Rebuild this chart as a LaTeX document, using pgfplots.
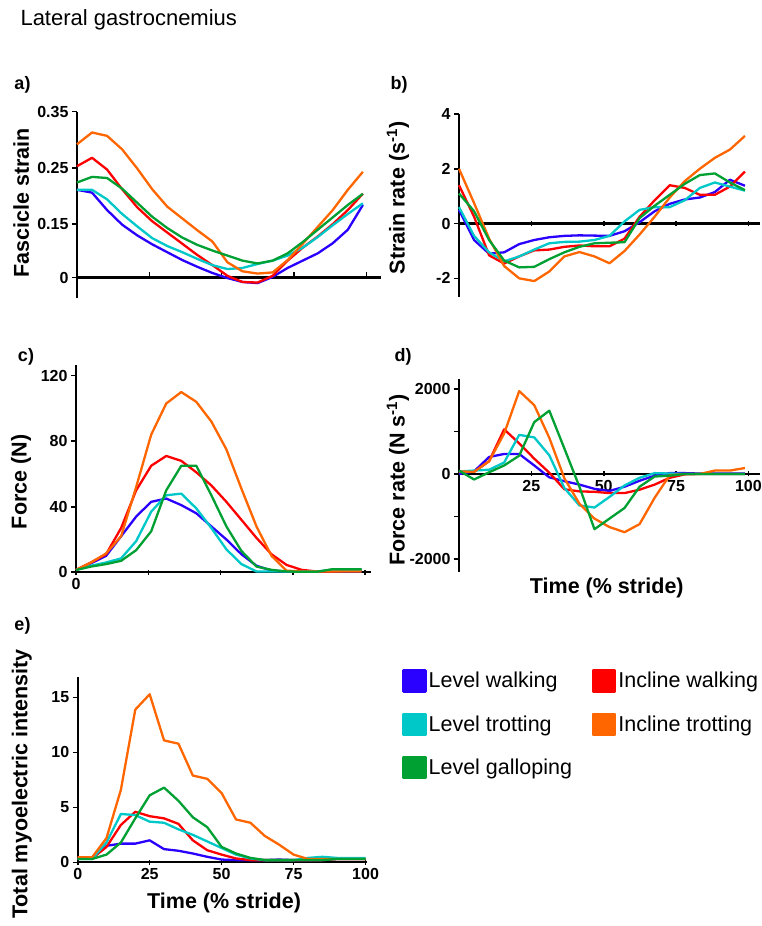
\documentclass[border=0pt]{standalone}
\usepackage{fontspec}
\setmainfont{Liberation Sans}
\usepackage{pgfplots}
\usepackage{pgfplotstable}
\pgfplotsset{compat=1.18}

\definecolor{lwalk}{HTML}{2A00FF}
\definecolor{iwalk}{HTML}{FF0000}
\definecolor{ltrot}{HTML}{00C8C8}
\definecolor{itrot}{HTML}{FF6600}
\definecolor{lgall}{HTML}{00A032}

\newcommand\tickfont{\fontsize{16}{16}\selectfont\bfseries}
\newcommand\labfont{\fontsize{21.5}{22}\selectfont\bfseries}
\newcommand\legfont{\fontsize{21.5}{22}\selectfont}
\newcommand\panfont{\fontsize{18}{18}\selectfont\bfseries}

% columns: lw = level walking, iw = incline walking, lt = level trotting,
% it = incline trotting, lg = level galloping
\pgfplotstableread{
x    lw    iw    lt    it    lg
0    0.211 0.253 0.211 0.292 0.224
5.2  0.206 0.268 0.211 0.313 0.234
10.4 0.175 0.247 0.194 0.307 0.232
15.6 0.149 0.212 0.168 0.283 0.213
20.8 0.130 0.180 0.146 0.249 0.188
26   0.114 0.155 0.125 0.212 0.163
31.2 0.100 0.135 0.111 0.181 0.143
36.4 0.086 0.115 0.100 0.160 0.126
41.6 0.074 0.095 0.088 0.139 0.113
46.8 0.063 0.077 0.077 0.119 0.103
52   0.054 0.058 0.070 0.082 0.094
57.2 0.047 0.047 0.072 0.066 0.085
62.4 0.045 0.046 0.079 0.062 0.080
67.6 0.056 0.058 0.085 0.064 0.085
72.8 0.072 0.085 0.094 0.086 0.098
78   0.085 0.108 0.108 0.115 0.118
83.2 0.098 0.128 0.127 0.145 0.140
88.4 0.116 0.150 0.148 0.175 0.162
93.6 0.140 0.175 0.168 0.211 0.184
98.8 0.184 0.204 0.187 0.243 0.204
}\strain

\pgfplotstableread{
x    lw    iw    lt    it    lg
0    0.5   1.4   0.6   2.0   1.1
5.2  -0.6  0.25  -0.45 0.75  0.45
10.4 -1.1  -1.16 -1.05 -0.55 -0.6
15.6 -1.05 -1.46 -1.38 -1.55 -1.35
20.8 -0.75 -1.2  -1.2  -2.0  -1.6
26   -0.6  -0.98 -0.95 -2.1  -1.58
31.2 -0.5  -0.95 -0.72 -1.75 -1.3
36.4 -0.45 -0.85 -0.67 -1.2  -1.05
41.6 -0.43 -0.8  -0.66 -1.04 -0.85
46.8 -0.44 -0.83 -0.6  -1.2  -0.72
52   -0.45 -0.83 -0.45 -1.45 -0.7
57.2 -0.28 -0.55 0.08  -1.0  -0.68
62.4 0.05  0.25  0.5   -0.4  0.2
67.6 0.45  0.85  0.6   0.25  0.65
72.8 0.72  1.4   0.6   0.95  1.05
78   0.88  1.3   0.85  1.55  1.45
83.2 0.95  1.05  1.3   2.0   1.77
88.4 1.15  1.05  1.5   2.4   1.83
93.6 1.6   1.35  1.35  2.7   1.5
98.8 1.38  1.9   1.2   3.2   1.22
}\srate

\pgfplotstableread{
x    lw   iw   lt   it   lg
0    1.4  1.4  1.4  1.4  1.4
5.2  5.5  6    4    6    3.5
10.4 10   11   6    11.5 5
15.6 22   27   8.5  22   7
20.8 34   50   19   52   13.5
26   43   65   37   84   25
31.2 45   71   47   103  50
36.4 41   68   48   110  65
41.6 36   61   39   104  65
46.8 28   53   27   92   47
52   20   43   14   75   28
57.2 11   32   5    51   13
62.4 4    21   0.5  28   3.5
67.6 1    11   0.5  10   1.5
72.8 0.5  4.5  0.5  1    0.5
78   0.5  1.5  0.5  0.5  0.3
83.2 0.5  0.5  0.5  0.5  0.3
88.4 0.5  0.5  1.5  0.5  1.8
93.6 0.5  1    1.5  0.5  1.8
98.8 0.5  1.5  1.5  0.5  1.8
}\force

\pgfplotstableread{
x    lw    iw    lt    it    lg
0    0     60    60    60    80
5.2  60    50    80    50    -130
10.4 400   300   100   300   40
15.6 470   1050  270   950   200
20.8 470   720   920   1950  430
26   200   360   860   1620  1220
31.2 -80   30    440   850   1490
36.4 -170  -360  -330  -100  600
41.6 -250  -410  -740  -700  -300
46.8 -350  -420  -790  -1050 -1300
52   -400  -450  -540  -1250 -1050
57.2 -300  -450  -270  -1370 -800
62.4 -160  -370  -90   -1180 -300
67.6 -40   -250  20    -560  -60
72.8 20    -90   10    -30   -40
78   20    -10   0     0     0
83.2 10    0     0     0     0
88.4 10    0     0     80    0
93.6 10    0     0     80    0
98.8 10    0     0     140   0
}\frate

\pgfplotstableread{
x    lw    iw    lt    it    lg
0    0.35  0.35  0.3   0.45  0.3
5    0.35  0.35  0.3   0.45  0.3
10   1.5   1.4   1.8   2.2   0.7
15   1.7   3.4   4.4   6.6   1.8
20   1.7   4.6   4.3   13.9  4.0
25   2.0   4.2   3.7   15.3  6.1
30   1.2   4.0   3.6   11.1  6.8
35   1.05  3.5   3.0   10.8  5.6
40   0.8   2.0   2.5   7.9   4.1
45   0.5   1.1   1.9   7.6   3.2
50   0.25  0.7   1.3   6.3   1.4
55   0.2   0.35  0.7   3.9   0.8
60   0.2   0.2   0.35  3.6   0.4
65   0.2   0.2   0.2   2.4   0.2
70   0.25  0.2   0.2   1.6   0.2
75   0.2   0.2   0.2   0.7   0.2
80   0.2   0.2   0.4   0.3   0.2
85   0.2   0.2   0.5   0.3   0.2
90   0.3   0.3   0.4   0.3   0.3
95   0.3   0.3   0.4   0.3   0.3
100  0.3   0.3   0.4   0.3   0.3
}\emg

\pgfplotsset{
  panel/.style={
    scale only axis, anchor=south west, clip=false,
    axis y line=left,
    axis line style={-, line width=2.2pt, black},
    tick style={black, line width=1.6pt},
    major tick length=5pt,
    ytick align=outside, xtick align=inside,
    tick label style={font=\tickfont},
    /pgf/number format/assume math mode=true,
    label style={font=\labfont},
    every axis plot/.append style={line width=2.3pt, mark=none, line join=round},
    cycle list={{lwalk},{iwalk},{ltrot},{itrot},{lgall}},
  },
  noarrows/.style={
    every inner x axis line/.append style={-},
    every outer x axis line/.append style={-},
    every inner y axis line/.append style={-},
    every outer y axis line/.append style={-},
  },
}

\begin{document}
\begin{tikzpicture}

\node[anchor=base west, font=\fontsize{22}{22}\selectfont] at (17pt,900pt) {Lateral gastrocnemius};
\node[font=\panfont] at (22.5pt,841pt) {a)};
\node[font=\panfont] at (399pt,841pt) {b)};
\node[font=\panfont] at (26pt,569pt) {c)};
\node[font=\panfont] at (403pt,569pt) {d)};
\node[font=\panfont] at (22.5pt,300pt) {e)};

% a) fascicle strain
\begin{axis}[panel, at={(77pt,627.7pt)}, width=303.8pt, height=186.6pt,
  axis x line=none, noarrows,
  xmin=0, xmax=105, ymin=0.018, ymax=0.35,
  ytick={0.055,0.15,0.25,0.35}, yticklabels={0,0.15,0.25,0.35},
  ylabel={Fascicle strain},
  ylabel style={at={(axis description cs:-0.184,0.511)}, anchor=center}]
\draw[line width=2.2pt] (axis cs:0,0.055) -- (axis cs:105,0.055);
\pgfplotsinvokeforeach{25,50,75,100}{\draw[line width=1.6pt] (axis cs:#1,0.055) -- ++(0pt,5pt);}
\addplot table[x=x,y=lw]{\strain};
\addplot table[x=x,y=iw]{\strain};
\addplot table[x=x,y=lt]{\strain};
\addplot table[x=x,y=it]{\strain};
\addplot table[x=x,y=lg]{\strain};
\end{axis}

% b) strain rate
\begin{axis}[panel, at={(459pt,629.3pt)}, width=301pt, height=182.7pt,
  axis x line=middle, noarrows, hide obscured y ticks=false,
  xmin=0, xmax=104, ymin=-2.67, ymax=4,
  xtick={25,50,75,100}, xticklabels={},
  ytick={-2,0,2,4},
  ylabel={Strain rate (s\textsuperscript{-1})},
  ylabel style={at={(axis description cs:-0.203,0.540)}, anchor=center}]
\addplot table[x=x,y=lw]{\srate};
\addplot table[x=x,y=iw]{\srate};
\addplot table[x=x,y=lt]{\srate};
\addplot table[x=x,y=it]{\srate};
\addplot table[x=x,y=lg]{\srate};
\end{axis}

% c) force
\begin{axis}[panel, at={(76pt,353.7pt)}, width=295pt, height=207.3pt,
  axis x line=bottom, noarrows,
  xmin=0, xmax=102, ymin=0, ymax=126.5,
  xtick={0,25,50,75,100}, xticklabels={0,,,,},
  ytick={0,40,80,120},
  ylabel={Force (N)},
  ylabel style={at={(axis description cs:-0.186,0.436)}, anchor=center}]
\addplot table[x=x,y=lw]{\force};
\addplot table[x=x,y=iw]{\force};
\addplot table[x=x,y=lt]{\force};
\addplot table[x=x,y=it]{\force};
\addplot table[x=x,y=lg]{\force};
\end{axis}

% d) force rate
\begin{axis}[panel, at={(459pt,354.3pt)}, width=301pt, height=192.4pt,
  axis x line=middle, noarrows, hide obscured y ticks=false,
  xmin=0, xmax=104, ymin=-2300, ymax=2228,
  xtick={25,50,75,100},
  ytick={-2000,-1000,0,1000,2000}, yticklabels={-2000,,0,,2000},
  ylabel={Force rate (N s\textsuperscript{-1})},
  ylabel style={at={(axis description cs:-0.203,0.477)}, anchor=center},
  xlabel={Time (\% stride)},
  xlabel style={at={(axis description cs:0.491,-0.086)}, anchor=center, font=\labfont}]
\addplot table[x=x,y=lw]{\frate};
\addplot table[x=x,y=iw]{\frate};
\addplot table[x=x,y=lt]{\frate};
\addplot table[x=x,y=it]{\frate};
\addplot table[x=x,y=lg]{\frate};
\end{axis}

% e) total myoelectric intensity
\begin{axis}[panel, at={(77.7pt,63.7pt)}, width=289.3pt, height=185.6pt,
  axis x line=bottom, noarrows,
  xmin=0, xmax=100.5, ymin=0, ymax=16.9,
  xtick={0,25,50,75,100},
  ytick={0,5,10,15},
  ylabel={Total myoelectric intensity},
  ylabel style={at={(axis description cs:-0.193,0.422)}, anchor=center},
  xlabel={Time (\% stride)},
  xlabel style={at={(axis description cs:0.506,-0.219)}, anchor=center, font=\labfont},
  legend style={at={(axis description cs:1.111,1.052)}, anchor=north west,
    draw=none, fill=none, font=\legfont, legend cell align=left,
    row sep=20pt, /tikz/every even column/.append style={column sep=18pt}},
  legend columns=2,
  legend image code/.code={\fill[#1] (0pt,-10.5pt) rectangle (22pt,10.5pt);}]
\addplot table[x=x,y=lw]{\emg}; \addlegendentry{Level walking}
\addplot table[x=x,y=iw]{\emg}; \addlegendentry{Incline walking}
\addplot table[x=x,y=lt]{\emg}; \addlegendentry{Level trotting}
\addplot table[x=x,y=it]{\emg}; \addlegendentry{Incline trotting}
\addplot table[x=x,y=lg]{\emg}; \addlegendentry{Level galloping}
\end{axis}

\pgfresetboundingbox
\path (0pt,0pt) rectangle (762pt,926pt);
\end{tikzpicture}
\end{document}
